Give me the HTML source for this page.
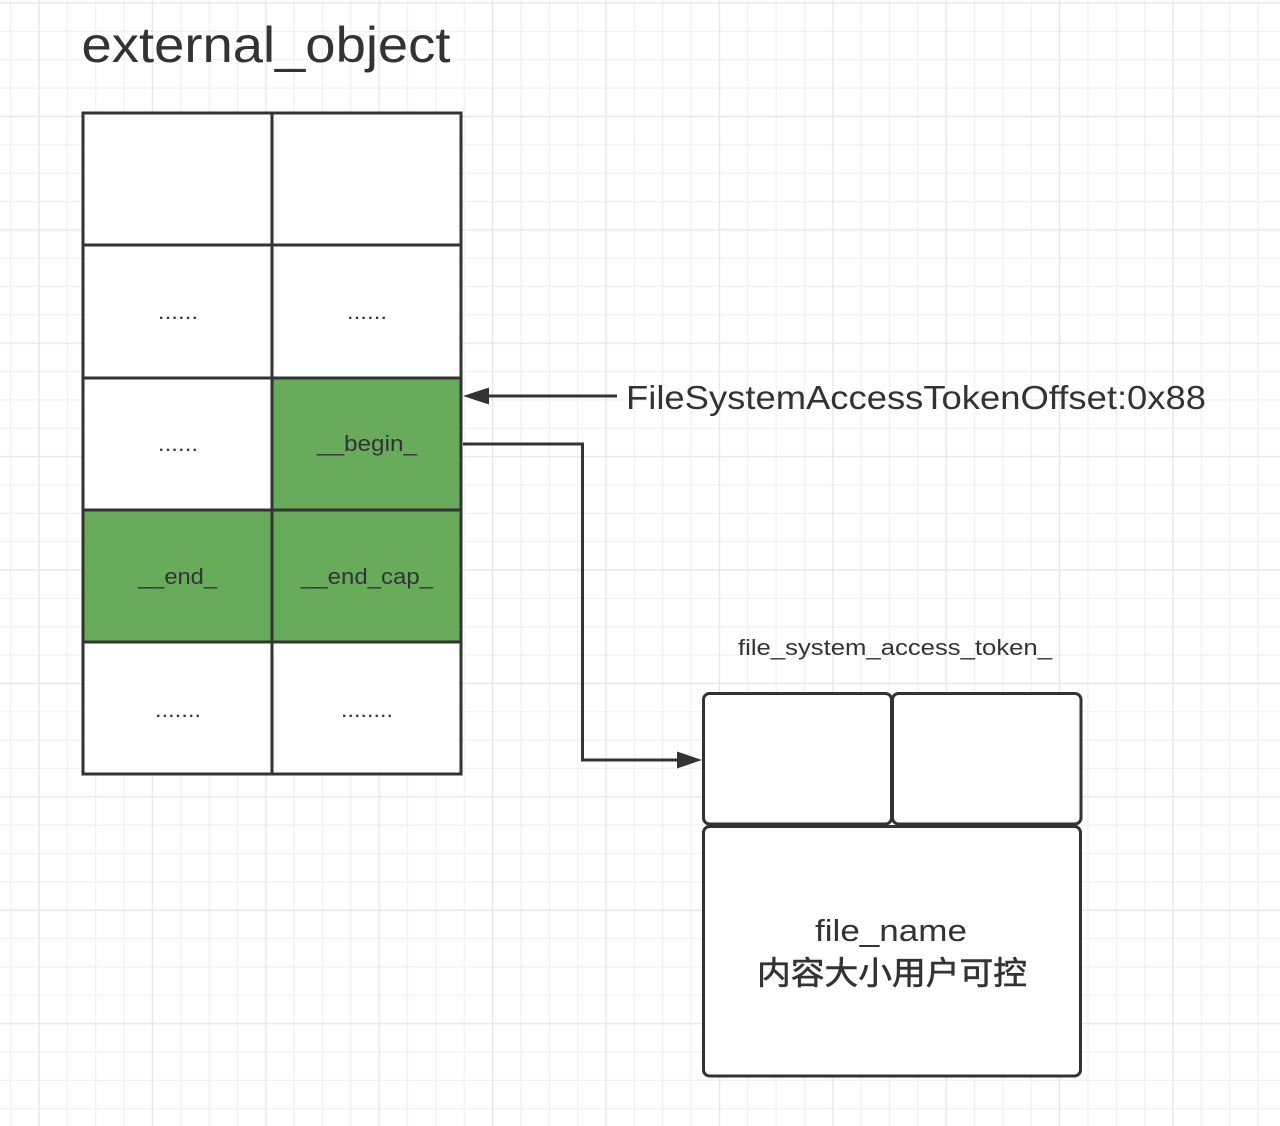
<!DOCTYPE html>
<html>
<head>
<meta charset="utf-8">
<style>
  html,body{margin:0;padding:0;background:#fff;}
  body{width:1280px;height:1126px;overflow:hidden;}
  svg{display:block;}
  text{font-family:"Liberation Sans","Noto Sans CJK SC",sans-serif;fill:#333;}
</style>
</head>
<body>
<svg width="1280" height="1126" viewBox="0 0 1280 1126" xmlns="http://www.w3.org/2000/svg">
  <defs>
    <pattern id="grid" x="38" y="2" width="113.4" height="113.4" patternUnits="userSpaceOnUse">
      <g stroke="#f1f1f1" stroke-width="1.3" fill="none">
        <line x1="29.35" y1="0" x2="29.35" y2="113.4"/>
        <line x1="57.7" y1="0" x2="57.7" y2="113.4"/>
        <line x1="86.05" y1="0" x2="86.05" y2="113.4"/>
        <line x1="0" y1="29.35" x2="113.4" y2="29.35"/>
        <line x1="0" y1="57.7" x2="113.4" y2="57.7"/>
        <line x1="0" y1="86.05" x2="113.4" y2="86.05"/>
      </g>
      <g stroke="#e8e8e8" stroke-width="1.5" fill="none">
        <line x1="1" y1="0" x2="1" y2="113.4"/>
        <line x1="0" y1="1" x2="113.4" y2="1"/>
      </g>
    </pattern>
  </defs>

  <rect x="0" y="0" width="1280" height="1126" fill="#fff"/>
  <rect x="0" y="0" width="1280" height="1126" fill="url(#grid)"/>

  <!-- Title -->
  <text x="81.5" y="62" font-size="50" textLength="369" lengthAdjust="spacingAndGlyphs">external_object</text>

  <!-- Table -->
  <g stroke="#333" stroke-width="3">
    <rect x="83" y="113" width="189" height="132" fill="#fff"/>
    <rect x="272" y="113" width="189" height="132" fill="#fff"/>
    <rect x="83" y="245" width="189" height="133" fill="#fff"/>
    <rect x="272" y="245" width="189" height="133" fill="#fff"/>
    <rect x="83" y="378" width="189" height="132" fill="#fff"/>
    <rect x="272" y="378" width="189" height="132" fill="#67ab5b"/>
    <rect x="83" y="510" width="189" height="132" fill="#67ab5b"/>
    <rect x="272" y="510" width="189" height="132" fill="#67ab5b"/>
    <rect x="83" y="642" width="189" height="132" fill="#fff"/>
    <rect x="272" y="642" width="189" height="132" fill="#fff"/>
  </g>

  <!-- Cell texts -->
  <g font-weight="bold" style="fill:#222">
    <text x="159" y="319" font-size="16" textLength="38" lengthAdjust="spacing">......</text>
    <text x="348" y="319" font-size="16" textLength="38" lengthAdjust="spacing">......</text>
    <text x="159" y="451" font-size="16" textLength="38" lengthAdjust="spacing">......</text>
    <text x="156" y="717" font-size="16" textLength="44" lengthAdjust="spacing">.......</text>
    <text x="342" y="717" font-size="16" textLength="50" lengthAdjust="spacing">........</text>
  </g>

  <text x="317" y="451" font-size="22" textLength="100" lengthAdjust="spacingAndGlyphs">__begin_</text>
  <text x="138" y="584" font-size="22" textLength="79" lengthAdjust="spacingAndGlyphs">__end_</text>
  <text x="301" y="584" font-size="22" textLength="132" lengthAdjust="spacingAndGlyphs">__end_cap_</text>

  <!-- Arrow 1: offset label -->
  <line x1="617" y1="396" x2="486" y2="396" stroke="#333" stroke-width="3"/>
  <polygon points="463,396 489,387.5 489,404.5" fill="#333"/>
  <text x="626" y="409" font-size="33" textLength="580" lengthAdjust="spacingAndGlyphs">FileSystemAccessTokenOffset:0x88</text>

  <!-- Arrow 2: connector -->
  <polyline points="463,444 582.5,444 582.5,760 680,760" fill="none" stroke="#333" stroke-width="3"/>
  <polygon points="702,760 677,751.5 677,768.5" fill="#333"/>

  <!-- Right structure -->
  <text x="738" y="655" font-size="22" textLength="314" lengthAdjust="spacingAndGlyphs">file_system_access_token_</text>

  <g stroke="#333" stroke-width="3" fill="#fff">
    <rect x="703.5" y="693.5" width="188" height="130.5" rx="6" ry="6"/>
    <rect x="892.5" y="693.5" width="188.5" height="130.5" rx="6" ry="6"/>
    <rect x="703.5" y="826.5" width="377" height="249.5" rx="6" ry="6"/>
  </g>

  <text x="815" y="941" font-size="31" textLength="152" lengthAdjust="spacingAndGlyphs">file_name</text>
  <text x="757" y="984" font-size="32" stroke="#333" stroke-width="0.6" textLength="270" lengthAdjust="spacingAndGlyphs" style="font-family:'Noto Sans CJK SC','WenQuanYi Zen Hei',sans-serif;">内容大小用户可控</text>
</svg>
</body>
</html>
